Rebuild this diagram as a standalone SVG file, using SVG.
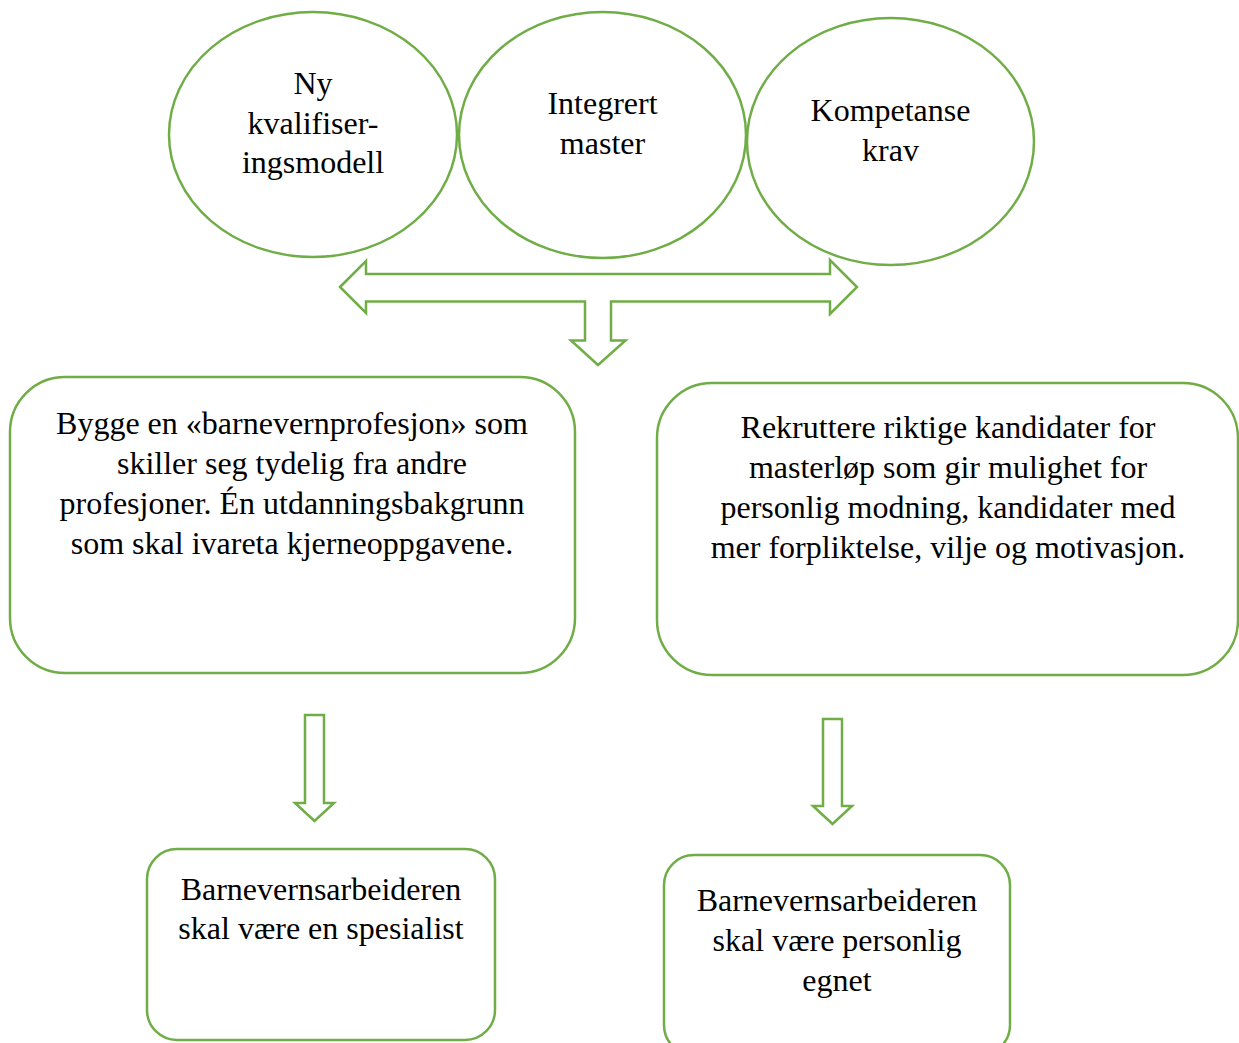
<svg xmlns="http://www.w3.org/2000/svg" width="1239" height="1043" viewBox="0 0 1239 1043">
<style>
.s{fill:#fff;stroke:#70AD47;stroke-width:2.5}
.a{fill:none;stroke:#70AD47;stroke-width:2.5;stroke-linejoin:miter}
text{font-family:"Liberation Serif","Times New Roman",serif;font-size:32px;fill:#000;text-anchor:middle}
</style>
<rect width="1239" height="1043" fill="#fff"/>
<g id="n1"><ellipse class="s" cx="313" cy="134.5" rx="144" ry="122.5"/>
<text x="313" y="94">Ny</text><text x="313" y="134">kvalifiser-</text><text x="313" y="173">ingsmodell</text></g>
<g id="n2"><ellipse class="s" cx="602.5" cy="135" rx="143.5" ry="123"/>
<text x="602.5" y="114">Integrert</text><text x="602.5" y="154">master</text></g>
<g id="n3"><ellipse class="s" cx="890.5" cy="141.5" rx="143.5" ry="123.5"/>
<text x="890.5" y="121">Kompetanse</text><text x="890.5" y="161">krav</text></g>
<g id="n4"><rect class="s" x="10" y="377" width="565" height="296" rx="55"/>
<text x="292" y="434">Bygge en «barnevernprofesjon» som</text>
<text x="292" y="474">skiller seg tydelig fra andre</text>
<text x="292" y="514">profesjoner. Én utdanningsbakgrunn</text>
<text x="292" y="554">som skal ivareta kjerneoppgavene.</text></g>
<g id="n5"><rect class="s" x="657" y="383" width="581" height="292" rx="55"/>
<text x="948" y="438">Rekruttere riktige kandidater for</text>
<text x="948" y="478">masterløp som gir mulighet for</text>
<text x="948" y="518">personlig modning, kandidater med</text>
<text x="948" y="558">mer forpliktelse, vilje og motivasjon.</text></g>
<g id="n6"><rect class="s" x="147" y="849" width="348" height="191" rx="30"/>
<text x="321" y="900">Barnevernsarbeideren</text>
<text x="321" y="939">skal være en spesialist</text></g>
<g id="n7"><rect class="s" x="664" y="855" width="346" height="200" rx="30"/>
<text x="837" y="911">Barnevernsarbeideren</text>
<text x="837" y="951">skal være personlig</text>
<text x="837" y="991">egnet</text></g>
<g id="connectors">
<path class="a" d="M340,287 L366,261 L366,274 L830,274 L830,260 L857,287 L830,314 L830,301.5 L611,301.5 L611,340.5 L625.5,340.5 L598,365 L571,340.5 L585,340.5 L585,301.5 L366,301.5 L366,313 Z"/>
<path class="a" d="M305,715 L324,715 L324,803 L334,803 L314.5,821 L295,803 L305,803 Z"/>
<path class="a" d="M823,719 L842,719 L842,806 L852,806 L832.5,824 L813,806 L823,806 Z"/>
</g>
</svg>
